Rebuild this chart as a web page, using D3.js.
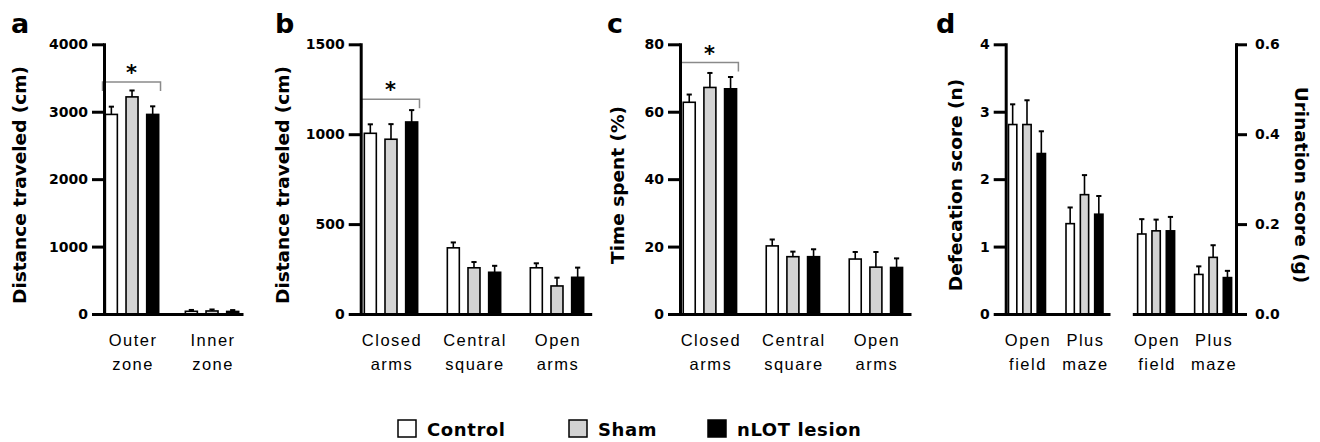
<!DOCTYPE html>
<html>
<head>
<meta charset="utf-8">
<script src="https://cdn.jsdelivr.net/npm/d3@7"></script>
<style>
  body { margin: 0; background: #fff; }
  svg text { fill: #000; }
  .cat { font-family: 'Liberation Sans', Arial; font-size: 16.5px; letter-spacing: 1.5px; }
  .title { font-family: 'DejaVu Sans'; font-weight: bold; font-size: 18.5px; }
  .letter { font-family: 'DejaVu Sans'; font-weight: bold; font-size: 27px; }
  .star { font-family: 'DejaVu Sans'; font-weight: bold; font-size: 21px; }
  .legend text { font-family: 'DejaVu Sans'; font-weight: bold; font-size: 18px; letter-spacing: 0.6px; }
</style>
</head>
<body>
<div id="chart"></div>
<script>
// groups (legend)
const groups = ['Control', 'Sham', 'nLOT lesion'];
const groupFill = ['#ffffff', '#d3d3d3', '#000000'];

// a: open field zones
const zoneCategories = ['Outer zone', 'Inner zone'];
const zoneDistance = [[2960, 3220, 2960], [40, 45, 38]];
const zoneDistanceErr = [[115, 95, 120], [20, 22, 20]];

// b, c: plus maze
const mazeCategories = ['Closed arms', 'Central square', 'Open arms'];
const mazeDistance = [[1005, 972, 1068], [368, 257, 232], [257, 156, 204]];
const mazeDistanceErr = [[50, 84, 66], [30, 32, 36], [25, 46, 54]];
const mazeTime = [[62.8, 67.2, 66.8], [20.2, 17.0, 17.0], [16.3, 13.9, 13.8]];
const mazeTimeErr = [[2.3, 4.3, 3.5], [1.9, 1.5, 2.2], [2.1, 4.5, 2.7]];

// d: emotionality
const emoCategories = ['Open field', 'Plus maze'];
const defecation = [[2.81, 2.81, 2.38], [1.34, 1.77, 1.48]];
const defecationErr = [[0.30, 0.36, 0.33], [0.24, 0.29, 0.27]];
const urination = [[0.178, 0.185, 0.185], [0.088, 0.126, 0.081]];
const urinationErr = [[0.033, 0.025, 0.031], [0.018, 0.027, 0.015]];

const width = 1320;
const height = 442;
const yTop = 44.3;
const yBase = 314;

const svg = d3.select('#chart').append('svg')
  .attr('width', width)
  .attr('height', height);

function groupScale(cats, r0, r1, step, align) {
  const pad = ((r1 - r0) / step - (cats.length - 1)) / 2;
  return d3.scalePoint().domain(cats).range([r0, r1]).padding(pad).align(align);
}

function innerScale(half) {
  return d3.scaleBand().domain(groups).range([-half, half])
    .paddingInner(0.42).paddingOuter(0.21);
}

function drawBars(g, x, inner, y, cats, means, errs) {
  const rows = [];
  cats.forEach((c, i) => groups.forEach((s, j) => {
    rows.push({ cat: c, group: s, j: j, v: means[i][j], e: errs[i][j] });
  }));
  const cx = (d) => x(d.cat) + inner(d.group) + inner.bandwidth() / 2;

  g.append('g').selectAll('rect').data(rows).join('rect')
    .attr('x', (d) => x(d.cat) + inner(d.group))
    .attr('width', inner.bandwidth())
    .attr('y', (d) => y(d.v))
    .attr('height', (d) => y(0) - y(d.v))
    .attr('fill', (d) => groupFill[d.j])
    .attr('stroke', '#000')
    .attr('stroke-width', 1.6);

  const eb = g.append('g').attr('stroke', '#000').attr('stroke-width', 1.6);
  eb.selectAll('line.stem').data(rows).join('line')
    .attr('class', 'stem')
    .attr('x1', cx).attr('x2', cx)
    .attr('y1', (d) => y(d.v)).attr('y2', (d) => y(d.v + d.e));
  eb.selectAll('line.cap').data(rows).join('line')
    .attr('class', 'cap')
    .attr('stroke-width', 2)
    .attr('x1', (d) => cx(d) - 2.6).attr('x2', (d) => cx(d) + 2.6)
    .attr('y1', (d) => y(d.v + d.e)).attr('y2', (d) => y(d.v + d.e));
}

function drawXAxis(g, x, cats) {
  const ax = g.append('g')
    .attr('transform', `translate(0,${yBase})`)
    .call(d3.axisBottom(x).tickSize(0).tickSizeOuter(0).tickFormat(''));
  ax.select('.domain').attr('stroke-width', 3);

  const lab = g.append('g');
  cats.forEach((c) => {
    const words = c.split(' ');
    words.forEach((w, k) => {
      lab.append('text')
        .attr('class', 'cat')
        .attr('x', x(c) + 1)
        .attr('y', 346 + k * 24)
        .attr('text-anchor', 'middle')
        .text(w);
    });
  });
}

function drawYAxis(g, y, xPos, ticks, fmt, side) {
  const axis = side === 'right'
    ? d3.axisRight(y).tickSize(11).tickPadding(8)
    : d3.axisLeft(y).tickSize(12).tickPadding(4);
  const ax = g.append('g')
    .attr('transform', `translate(${xPos},0)`)
    .call(axis.tickValues(ticks).tickSizeOuter(0).tickFormat(fmt));
  ax.attr('font-family', 'DejaVu Sans')
    .attr('font-size', 14)
    .attr('font-weight', 'bold');
  ax.selectAll('.domain, .tick line').attr('stroke-width', 3);
  ax.select('.domain').attr('stroke-linecap', 'square');
}

function drawTitle(x, text, rot) {
  svg.append('text')
    .attr('class', 'title')
    .attr('transform', `translate(${x},185) rotate(${rot})`)
    .attr('text-anchor', 'middle')
    .text(text);
}

function drawLetter(x, text) {
  svg.append('text').attr('class', 'letter').attr('x', x).attr('y', 33).text(text);
}

function drawBracket(g, x, cat, y, value) {
  const yb = y(value);
  const x0 = x(cat) - 29.5;
  const x1 = x(cat) + 28.5;
  g.append('path')
    .attr('d', `M${x0},${yb + 9}V${yb}H${x1}V${yb + 9}`)
    .attr('fill', 'none')
    .attr('stroke', '#8a8a8a')
    .attr('stroke-width', 1.5);
  g.append('text')
    .attr('class', 'star')
    .attr('x', (x0 + x1) / 2)
    .attr('y', yb - 2)
    .attr('text-anchor', 'middle')
    .text('*');
}

// ---- panel a ----
(function () {
  const g = svg.append('g');
  const y = d3.scaleLinear().domain([0, 4000]).range([yBase, yTop]);
  const x = groupScale(zoneCategories, 104, 243, 80, 0.475);
  drawBars(g, x, innerScale(31), y, zoneCategories, zoneDistance, zoneDistanceErr);
  drawBracket(g, x, zoneCategories[0], y, 3440);
  drawXAxis(g, x, zoneCategories);
  drawYAxis(g, y, 104, [0, 1000, 2000, 3000, 4000], d3.format('d'), 'left');
  drawTitle(25.5, 'Distance traveled (cm)', -90);
  drawLetter(11, 'a');
})();

// ---- panel b ----
(function () {
  const g = svg.append('g');
  const y = d3.scaleLinear().domain([0, 1500]).range([yBase, yTop]);
  const x = groupScale(mazeCategories, 360.7, 591.7, 83, 0.466);
  drawBars(g, x, innerScale(31), y, mazeCategories, mazeDistance, mazeDistanceErr);
  drawBracket(g, x, mazeCategories[0], y, 1194);
  drawXAxis(g, x, mazeCategories);
  drawYAxis(g, y, 360.7, [0, 500, 1000, 1500], d3.format('d'), 'left');
  drawTitle(288.5, 'Distance traveled (cm)', -90);
  drawLetter(275, 'b');
})();

// ---- panel c ----
(function () {
  const g = svg.append('g');
  const y = d3.scaleLinear().domain([0, 80]).range([yBase, yTop]);
  const x = groupScale(mazeCategories, 680, 911, 83, 0.46);
  drawBars(g, x, innerScale(31), y, mazeCategories, mazeTime, mazeTimeErr);
  drawBracket(g, x, mazeCategories[0], y, 74.6);
  drawXAxis(g, x, mazeCategories);
  drawYAxis(g, y, 680, [0, 20, 40, 60, 80], d3.format('d'), 'left');
  drawTitle(623.5, 'Time spent (%)', -90);
  drawLetter(607, 'c');
})();

// ---- panel d ----
(function () {
  const g = svg.append('g');
  const yL = d3.scaleLinear().domain([0, 4]).range([yBase, yTop]);
  const yR = d3.scaleLinear().domain([0, 0.6]).range([yBase, yTop]);
  const xL = groupScale(emoCategories, 1005.7, 1110, 57.5, 0.455);
  const xR = groupScale(emoCategories, 1132.3, 1236, 57, 0.51);
  drawBars(g, xL, innerScale(21.5), yL, emoCategories, defecation, defecationErr);
  drawBars(g, xR, innerScale(21.5), yR, emoCategories, urination, urinationErr);
  drawXAxis(g, xL, emoCategories);
  drawXAxis(g, xR, emoCategories);
  drawYAxis(g, yL, 1005.7, [0, 1, 2, 3, 4], d3.format('d'), 'left');
  drawYAxis(g, yR, 1236, [0, 0.2, 0.4, 0.6], d3.format('.1f'), 'right');
  drawTitle(962, 'Defecation score (n)', -90);
  drawTitle(1295, 'Urination score (g)', 90);
  drawLetter(936, 'd');
})();

// ---- legend ----
const legendX = [398, 569, 708];
const legend = svg.append('g').attr('class', 'legend');
groups.forEach((s, j) => {
  legend.append('rect')
    .attr('x', legendX[j]).attr('y', 420)
    .attr('width', 18).attr('height', 17)
    .attr('fill', groupFill[j])
    .attr('stroke', '#000')
    .attr('stroke-width', 1.5);
  legend.append('text')
    .attr('x', legendX[j] + 29)
    .attr('y', 436)
    .text(s);
});
</script>
</body>
</html>
